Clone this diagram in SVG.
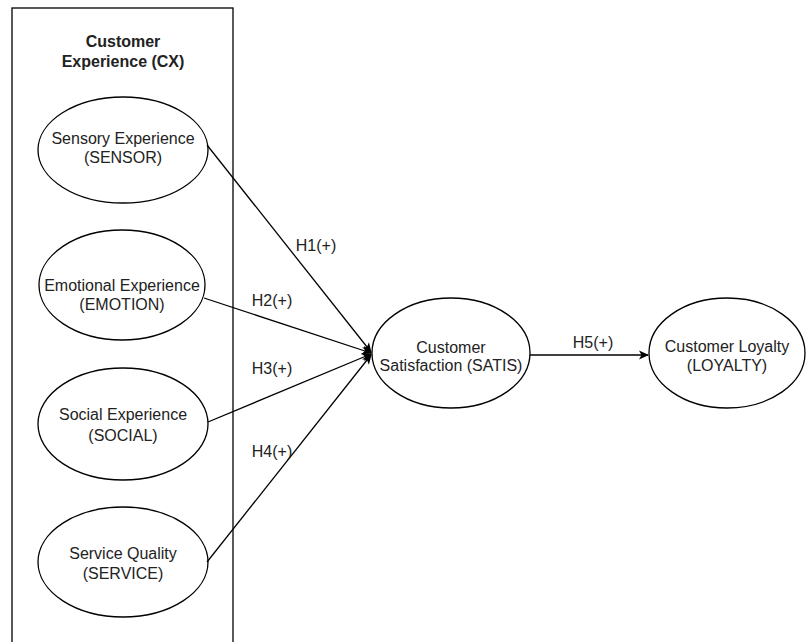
<svg xmlns="http://www.w3.org/2000/svg" width="806" height="642" viewBox="0 0 806 642">
<style>
.box{fill:#fff;stroke:#000;stroke-width:1.3}
.el{fill:#fff;stroke:#000;stroke-width:1.3}
.t{font-family:"Liberation Sans",Arial,sans-serif;font-size:16px;fill:#222;text-anchor:middle}
.tb{font-family:"Liberation Sans",Arial,sans-serif;font-size:16px;font-weight:bold;fill:#222;text-anchor:middle}
.c{fill:none;stroke:#000;stroke-width:1.3}
</style>
<defs>
<marker id="ah" markerWidth="10" markerHeight="10" refX="9" refY="5" orient="auto" markerUnits="userSpaceOnUse">
<path d="M0,0.5 L10,5 L0,9.5 L2.5,5 Z" fill="#000"/>
</marker>
</defs>
<rect width="806" height="642" fill="#fff"/>
<g id="cx-group">
<rect class="box" x="12" y="8" width="221" height="640"/>
<text class="tb" x="123" y="47">Customer</text>
<text class="tb" x="123" y="67">Experience (CX)</text>
</g>
<g id="sensor">
<ellipse class="el" cx="123" cy="150" rx="85" ry="53"/>
<text class="t" x="123" y="144">Sensory Experience</text>
<text class="t" x="123" y="163">(SENSOR)</text>
</g>
<g id="emotion">
<ellipse class="el" cx="122" cy="285" rx="83" ry="55"/>
<text class="t" x="122" y="291">Emotional Experience</text>
<text class="t" x="122" y="310">(EMOTION)</text>
</g>
<g id="social">
<ellipse class="el" cx="123" cy="424" rx="85" ry="56"/>
<text class="t" x="123" y="420">Social Experience</text>
<text class="t" x="123" y="441">(SOCIAL)</text>
</g>
<g id="service">
<ellipse class="el" cx="123" cy="562" rx="85" ry="55"/>
<text class="t" x="123" y="559">Service Quality</text>
<text class="t" x="123" y="579">(SERVICE)</text>
</g>
<g id="satis">
<ellipse class="el" cx="451" cy="353" rx="79" ry="55"/>
<text class="t" x="451" y="353">Customer</text>
<text class="t" x="451" y="371">Satisfaction (SATIS)</text>
</g>
<g id="loyalty">
<ellipse class="el" cx="727" cy="353" rx="78" ry="55"/>
<text class="t" x="727" y="352">Customer Loyalty</text>
<text class="t" x="727" y="371">(LOYALTY)</text>
</g>
<g id="connectors">
<line class="c" x1="207" y1="145" x2="371" y2="352" marker-end="url(#ah)"/>
<line class="c" x1="204" y1="298" x2="371" y2="353" marker-end="url(#ah)"/>
<line class="c" x1="208" y1="422" x2="371" y2="354" marker-end="url(#ah)"/>
<line class="c" x1="207" y1="562" x2="371" y2="355" marker-end="url(#ah)"/>
<line class="c" x1="530" y1="355" x2="648" y2="355" marker-end="url(#ah)"/>
<text class="t" x="316" y="251">H1(+)</text>
<text class="t" x="272" y="306">H2(+)</text>
<text class="t" x="272" y="374">H3(+)</text>
<text class="t" x="272" y="457">H4(+)</text>
<text class="t" x="593" y="348">H5(+)</text>
</g>
</svg>
